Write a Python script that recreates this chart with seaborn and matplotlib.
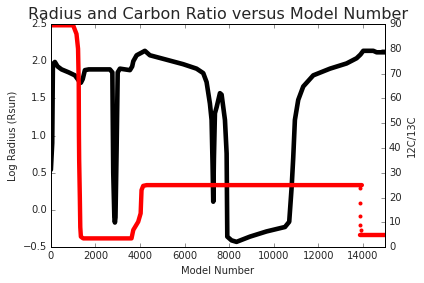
import numpy as np
import pandas as pd
import matplotlib
matplotlib.use("Agg")
import matplotlib.pyplot as plt
import seaborn as sns

# Black series: log radius (left axis)
radius_model = [0, 60, 90, 180, 300, 480, 800, 1078, 1250, 1347, 1430, 1527, 1700, 2650,
                2760, 2800, 2850, 2874, 2900, 2950, 3000, 3100, 3550, 3650, 3700, 3850,
                4100, 4220, 4445, 5195, 5940, 6540, 6840, 6990, 7140, 7215, 7260, 7290,
                7320, 7365, 7440, 7590, 7665, 7815, 7890, 7920, 8110, 8335, 8935, 9680,
                10510, 10700, 10810, 10880, 10955, 11105, 11330, 11780, 12530, 13275,
                13725, 13900, 14025, 14475, 14625, 15000]
log_radius = [0.54, 0.9, 1.95, 1.99, 1.93, 1.89, 1.85, 1.81, 1.74, 1.71, 1.76, 1.88, 1.89, 1.89,
              1.85, 0.5, -0.1, -0.17, -0.1, 0.8, 1.85, 1.90, 1.88, 1.93, 2.0, 2.08,
              2.12, 2.14, 2.08, 2.02, 1.96, 1.90, 1.84, 1.72, 1.43, 1.21, 0.6, 0.11,
              0.7, 1.3, 1.38, 1.57, 1.55, 1.21, 0.76, -0.36, -0.41, -0.43, -0.36, -0.29,
              -0.23, -0.16, 0.31, 0.70, 1.21, 1.48, 1.66, 1.81, 1.90, 1.97,
              2.04, 2.09, 2.14, 2.14, 2.12, 2.12]

# Red series: 12C/13C (right axis)
ratio_model = [0, 1000, 1150, 1220, 1250, 1260, 1270, 1300, 1320, 1347, 1450, 3620, 3700,
               3920, 4030, 4070, 4145, 4300, 13960]
ratio_value = [89.5, 89.5, 86, 80, 66, 45, 35, 20, 8, 4.2, 3.5, 3.5, 6.9,
               10.2, 13.6, 23.0, 24.7, 25.0, 25.0]
drop_model = [13890, 13893, 13896, 13900, 13903, 13906]
drop_value = [23.7, 17.6, 12.6, 8.9, 6.9, 5.1]
tail_model = [13900, 15000]
tail_value = [5.0, 5.0]

plt.style.use("classic")
sns.set_style("ticks", {"xtick.direction": "in", "ytick.direction": "in"})
plt.rcParams["font.family"] = ["DejaVu Sans"]

fig = plt.figure(figsize=(424 / 72, 283 / 72), dpi=72, facecolor="white")
ax1 = fig.add_subplot(111)
fig.subplots_adjust(left=0.120, right=0.908, top=0.915, bottom=0.127)

line_kw = dict(solid_capstyle="round", solid_joinstyle="round")
sns.lineplot(x=radius_model, y=log_radius, ax=ax1, color="black", lw=4.6,
             sort=False, estimator=None, **line_kw)
ax1.set_xlim(0, 15000)
ax1.set_ylim(-0.5, 2.5)
ax1.set_xticks(np.arange(0, 15000, 2000))
ax1.set_yticks(np.arange(-0.5, 2.51, 0.5))
ax1.set_xlabel("Model Number", fontsize=10)
ax1.set_ylabel("Log Radius (Rsun)", fontsize=10)
ax1.tick_params(labelsize=10, direction="in", length=4, top=True, right=False)
ax1.set_title("Radius and Carbon Ratio versus Model Number", fontsize=16)

ax2 = ax1.twinx()
sns.lineplot(x=ratio_model, y=ratio_value, ax=ax2, color="red", lw=4.4,
             sort=False, estimator=None, **line_kw)
sns.scatterplot(x=drop_model, y=drop_value, ax=ax2, color="red", s=16, linewidth=0)
sns.lineplot(x=tail_model, y=tail_value, ax=ax2, color="red", lw=4.4,
             sort=False, estimator=None, **line_kw)
ax2.set_ylim(0, 90)
ax2.set_yticks(np.arange(0, 91, 10))
ax2.set_xlim(0, 15000)
ax2.set_ylabel("12C/13C", fontsize=10)
ax2.tick_params(labelsize=10, direction="in", length=4)

for ax in (ax1, ax2):
    for s in ax.spines.values():
        s.set_linewidth(1)
        s.set_color("black")

fig.savefig("out.png", dpi=72, facecolor="white")
